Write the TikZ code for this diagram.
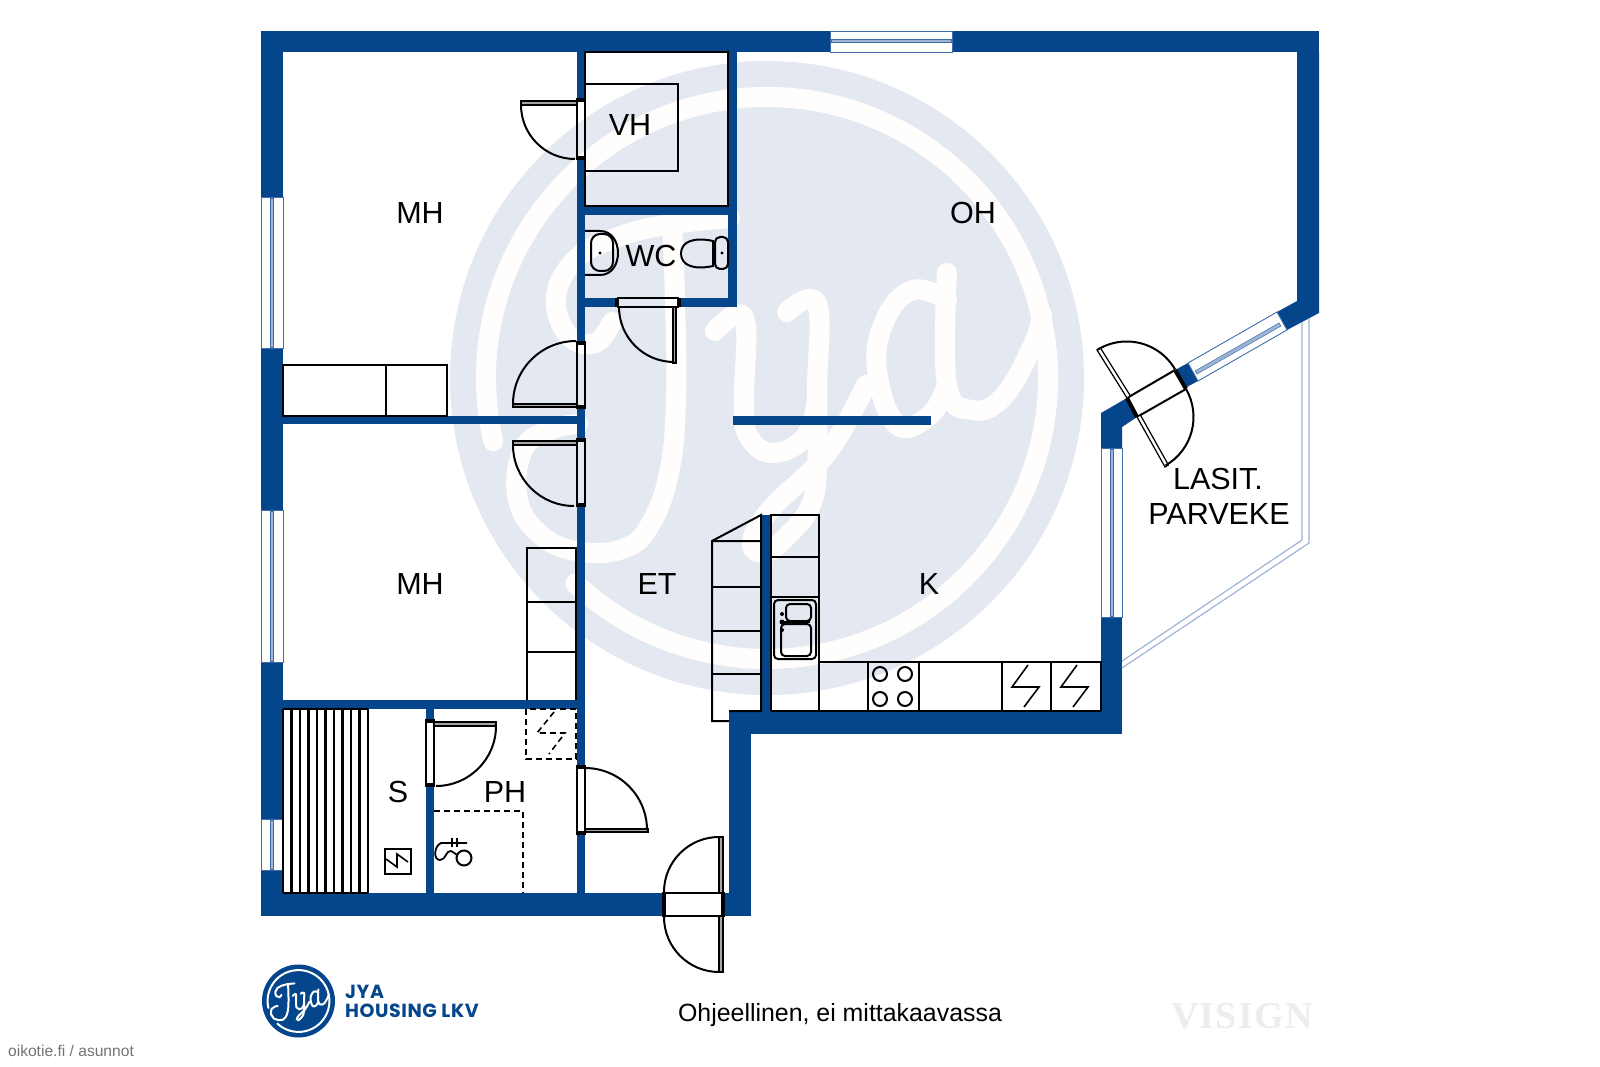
\documentclass[tikz,border=0pt]{standalone}
\usepackage{fontspec}
\setmainfont{Liberation Sans}
\newfontfamily\logofont[LetterSpace=3]{Poppins}
\newfontfamily\visignfont[LetterSpace=3.5]{Liberation Serif}
\definecolor{wallblue}{HTML}{04458B}
\definecolor{wmark}{HTML}{E4E9F1}
\definecolor{wmstroke}{HTML}{FFFEFC}
\definecolor{glassblue}{HTML}{3F6DA8}
\definecolor{glasslight}{HTML}{9DB4D6}
\tikzset{
wall/.style={fill=wallblue,draw=none},
fitting/.style={draw=black,line width=2pt},
hidden/.style={draw=black,line width=1.6pt,dash pattern=on 6pt off 4pt},
glass/.style={fill=white,draw=glassblue,line width=0.9pt},
glassbar/.style={fill=glasslight,draw=glassblue,line width=0.5pt},
leaf/.style={fill=black!35,draw=black,line width=1.2pt},
swing/.style={draw=black,line width=2pt},
doorend/.style={draw=black,line width=4pt},
roomlabel/.style={font=\fontsize{30.5}{34}\selectfont,text=black,inner sep=0pt}
}
\newcommand{\jyascript}[1]{
\draw[#1] (493.2,441.2) arc[start angle=167,end angle=493,radius=281pt];
\draw[#1] plot[smooth,tension=.7] coordinates {(612,322) (595,343) (568,335) (556,297) (575,260) (610,240) (660,226) (730,218)};
\draw[#1] plot[smooth,tension=.7] coordinates {(672,226) (675,300) (676,400) (669,473) (650,525) (625,548) (583,552) (543,537) (518,500) (523,450) (550,430) (578,424)};
\draw[#1] plot[smooth,tension=.7] coordinates {(715,331) (744,318) (744,400) (748,435) (772,453) (805,437) (817,400)};
\draw[#1] plot[smooth,tension=.7] coordinates {(787,312) (817,304) (817,390) (817,470) (810,507) (790,533) (767,552) (752,543) (770,510) (827,453) (866,385)};
\draw[#1] plot[smooth,tension=.7] coordinates {(947,300) (913,290) (885,320) (877,370) (897,425) (930,415) (947,385)};
\draw[#1] plot[smooth,tension=.7] coordinates {(947,273) (947,385) (972,410) (1003,397) (1033,345) (1042,315)};
}
\begin{document}
\begin{tikzpicture}[x=1pt,y=1pt,yscale=-1,line cap=butt,line join=miter]
\useasboundingbox (0,0) rectangle (1600,1067);

% watermark
\coordinate (Wm) at (767,378);
\fill[wmark] (Wm) circle[radius=317pt];
\jyascript{wmstroke,line width=20pt,line cap=round}

% outer walls
\foreach \xa/\ya/\xb/\yb in {
261/31/830/52, 952/31/1319/52,
261/52/283/197, 261/348/283/510, 261/662/283/819, 261/870/283/916,
283/893/664/916, 723/893/751/916, 729/711/751/893,
729/711/1122/734, 1101/617/1122/711}
{
    \fill[wall] (\xa,\ya) rectangle (\xb,\yb);
};
\fill[wall] (1297,52) -- (1319,52) -- (1319,313) -- (1287,330) -- (1277,312) -- (1297,301) -- cycle;
\fill[wall] (1175,370) -- (1188,363) -- (1198,381) -- (1185,388) -- cycle;
\fill[wall] (1127,398) -- (1101,413) -- (1101,448) -- (1122,448) -- (1122,427) -- (1137,417) -- cycle;

% inner walls
\foreach \xa/\ya/\xb/\yb in {
577/52/585/100, 577/158/585/343, 577/407/585/440, 577/505/585/767, 577/833/585/893,
728/52/737/298, 585/206/728/215, 585/298/618/307, 678/298/737/307,
283/416/577/424, 733/416/931/425, 762/515/770/711, 283/700/577/709,
426/709/434/721, 426/785/434/893}
{
    \fill[wall] (\xa,\ya) rectangle (\xb,\yb);
};

% windows
\draw[glass] (830,31) rectangle (952,52);
\draw[glassbar] (831,39.5) rectangle (951,42.5);
\foreach \xa/\xb/\ya/\yb in {261/283/197/348, 261/283/510/662, 261/283/819/870, 1101/1122/448/617}
{
    \draw[glass] (\xa,\ya) rectangle (\xb,\yb);
    \draw[glassbar] ({(\xa+\xb)/2-1.5},\ya+1) rectangle ({(\xa+\xb)/2+1.5},\yb-1);
};
\draw[glass] (1188,363) -- (1277,312) -- (1287,330) -- (1198,381) -- cycle;
\draw[glassbar] (1195,371) -- (1279,323) -- (1281,326) -- (1197,374) -- cycle;

% balcony
\draw[glasslight,line width=1.2pt] (1309,318) -- (1309,543) -- (1122,668);
\draw[glasslight,line width=1.2pt] (1302,322) -- (1302,540) -- (1122,661);

% swing doors
\foreach \xa/\ya/\xb/\yb in {577/100/585/158, 618/298/678/307, 577/343/585/407, 577/440/585/505, 426/721/434/785, 577/767/585/833, 664/893/723/916}
{
    \draw[fitting] (\xa,\ya) rectangle (\xb,\yb);
};
\foreach \xa/\ya/\xb/\yb in {576/100/586/100, 576/158/586/158, 617/298/617/307, 679/298/679/307,
576/343/586/343, 576/407/586/407, 576/440/586/440, 576/505/586/505,
425/721/435/721, 425/785/435/785, 576/767/586/767, 576/833/586/833,
664/892/664/917, 723/892/723/917}
{
    \draw[doorend] (\xa,\ya) -- (\xb,\yb);
};
\foreach \xa/\ya/\xb/\yb in {521/101/577/105, 673/307/676/363, 513/404/577/407, 513/441/577/445, 434/722/496/726, 585/829/648/832, 719/837/723/893, 719/916/723/972}
{
    \draw[leaf] (\xa,\ya) rectangle (\xb,\yb);
};
\draw[swing] (521,105) arc[start angle=180,end angle=90,radius=54pt];
\draw[swing] (619,307) arc[start angle=180,end angle=90,radius=55pt];
\draw[swing] (513,404) arc[start angle=180,end angle=270,radius=63pt];
\draw[swing] (513,445) arc[start angle=180,end angle=90,radius=61pt];
\draw[swing] (496,726) arc[start angle=0,end angle=90,radius=60pt];
\draw[swing] (585,768) arc[start angle=270,end angle=360,radius=62pt];
\draw[swing] (719,837) arc[start angle=270,end angle=180,radius=55pt];
\draw[swing] (664,917) arc[start angle=180,end angle=90,radius=55pt];

% balcony door
\draw[fitting] (1127,398) -- (1175,370) (1137,417) -- (1186,389);
\draw[doorend] (1127,398) -- (1137,417) (1175,370) -- (1186,389);
\draw[leaf,fill=white] (1127,398) -- (1097,350) -- (1100.4,347.9) -- (1130.4,395.9) -- cycle;
\draw[leaf,fill=white] (1137,417) -- (1165,467) -- (1168.4,465) -- (1140.4,415) -- cycle;
\draw[swing] (1097,350) arc[start angle=238,end angle=330,radius=56pt];
\draw[swing] (1186,389) arc[start angle=-30,end angle=60,radius=56pt];

% closet and wardrobes
\draw[fitting] (585,52) rectangle (728,206);
\draw[fitting] (585,84) -- (678,84) -- (678,171) -- (585,171);
\draw[fitting] (283,365) rectangle (447,416) (386,365) -- (386,416);
\draw[fitting] (527,700) -- (527,548) -- (576,548) -- (576,700) (527,602) -- (576,602) (527,652) -- (576,652);

% kitchen
\draw[fitting] (729,721) -- (712,721) -- (712,541) -- (761,515) -- (761,711) -- (729,711) (712,541) -- (761,541);
\foreach \y in {587,631,674}
{
    \draw[fitting] (712,\y) -- (761,\y);
};
\draw[fitting] (771,711) -- (771,515) -- (819,515) -- (819,711) (771,557) -- (819,557) (771,597) -- (819,597);
\draw[fitting] (819,662) -- (1101,662) -- (1101,711) (771,711) -- (1101,711);
\foreach \x in {868,919,1002,1051}
{
    \draw[fitting] (\x,662) -- (\x,711);
};
\foreach \x/\y in {880/674,905/674,880/699,905/699}
{
    \draw[fitting] (\x,\y) circle[radius=7pt];
};
\foreach \x in {1002,1051}
{
    \draw[fitting,line width=1.6pt] (\x+26,665) -- (\x+10,687) -- (\x+37,687) -- (\x+22,707);
};
\draw[fitting,rounded corners=4pt] (774,600) rectangle (816,659);
\draw[fitting,rounded corners=4pt] (786,604) rectangle (811,621);
\draw[fitting,rounded corners=4pt] (781,624) rectangle (811,656);
\draw[fitting] (782,622) -- (810,622);
\fill[black] (782,622) circle[radius=2.5pt] (782,614) circle[radius=2pt] (782,630) circle[radius=2pt];

% wc
\draw[fitting] (585,231) -- (600,231) .. controls (612,231) and (618,242) .. (618,253) .. controls (618,264) and (612,275) .. (600,275) -- (585,275);
\draw[fitting,rounded corners=9pt] (591,234) rectangle (613,271);
\fill[black] (600,253) circle[radius=1.7pt];
\draw[fitting,rounded corners=5pt] (715,237) rectangle (728,269);
\fill[black] (722,253) circle[radius=1.7pt];
\draw[fitting] (713,241) .. controls (695,237) and (681,241) .. (681,253.5) .. controls (681,266) and (695,270) .. (713,266) -- cycle;
\draw[fitting] (713,244) -- (716,244) (713,263) -- (716,263);

% sauna and bathroom
\foreach \i in {0,...,10}
{
    \draw[fitting,line width=2.4pt] ({283+8.5*\i},709) -- ({283+8.5*\i},893);
};
\draw[fitting] (283,709) -- (368,709) (283,893) -- (368,893);
\draw[fitting] (385,849) rectangle (411,874);
\draw[fitting,line width=1.6pt] (386,859) -- (397,867) -- (397,854) -- (408,862);
\draw[hidden] (434,811) -- (523,811) -- (523,893);
\draw[hidden] (526,709) rectangle (576,759);
\draw[hidden] (554,712) -- (537,733) -- (565,733) -- (549,754);
\draw[fitting] (464,858) circle[radius=7.5pt];
\draw[fitting,line width=1.8pt] (467,843) -- (441,843) .. controls (434,846) and (433,860) .. (440,860) .. controls (446,860) and (446,850) .. (451,851) .. controls (454,852) and (455,854) .. (457,855);
\draw[fitting,line width=1.6pt] (452,838) -- (452,847) (457,838) -- (457,847);

% labels
\node[roomlabel] (mhtop) at (420,213) {MH};
\node[roomlabel] (mhlow) at (420,584) {MH};
\node[roomlabel] (oh) at (973,213) {OH};
\node[roomlabel] (vh) at (630,125) {VH};
\node[roomlabel] (wc) at (651,256) {WC};
\node[roomlabel] (et) at (657,584) {ET};
\node[roomlabel] (k) at (929,584) {K};
\node[roomlabel] (s) at (398,792) {S};
\node[roomlabel] (ph) at (505,792) {PH};
\node[roomlabel] (lasit) at (1218,479) {LASIT.};
\node[roomlabel] (parveke) at (1219,514) {PARVEKE};
\node[font=\fontsize{24.9}{28}\selectfont,inner sep=0pt] (scalenote) at (840,1015) {Ohjeellinen, ei mittakaavassa};
\node[font=\visignfont\bfseries\fontsize{38}{40}\selectfont,text=black!7,inner sep=0pt] (visign) at (1242,1016) {VISIGN};
\node[font=\fontsize{15.6}{17}\selectfont,text=black!55,inner sep=0pt] (source) at (71,1051) {oikotie.fi / asunnot};

% logo
\coordinate (Logo) at (298.5,1001);
\fill[wallblue] (Logo) circle[radius=36.5pt];
\begin{scope}[shift={(298.5,1001)},scale=.11,shift={(-767,-378)}]
\jyascript{white,line width=2pt,line cap=round}
\end{scope}
\node[anchor=west,font=\logofont\bfseries\fontsize{19}{20}\selectfont,text=wallblue,inner sep=0pt] (jya) at (345,992) {JYA};
\node[anchor=west,font=\logofont\bfseries\fontsize{19}{20}\selectfont,text=wallblue,inner sep=0pt] (housing) at (345,1010.5) {HOUSING LKV};

\end{tikzpicture}
\end{document}
